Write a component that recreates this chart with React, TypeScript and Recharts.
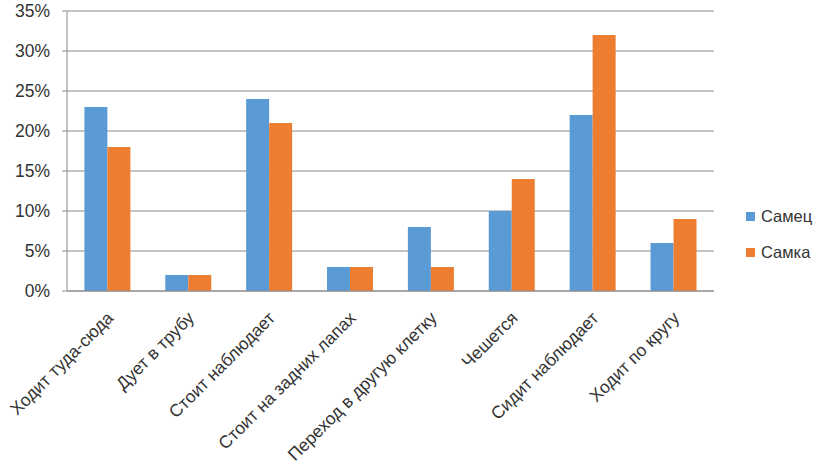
import React from "react";
import { BarChart, Bar, XAxis, YAxis, CartesianGrid, Legend } from "recharts";

const categories = [
  "Ходит туда-сюда",
  "Дует в трубу",
  "Стоит наблюдает",
  "Стоит на задних лапах",
  "Переход в другую клетку",
  "Чешется",
  "Сидит наблюдает",
  "Ходит по кругу",
];
const maleValues = [23, 2, 24, 3, 8, 10, 22, 6];
const femaleValues = [18, 2, 21, 3, 3, 14, 32, 9];
const yTicks = [0, 5, 10, 15, 20, 25, 30, 35];
const seriesNames = ["Самец", "Самка"];
const boundaryTicks = [0, 1, 2, 3, 4, 5, 6, 7, 8];

const data = categories.map((c, i) => ({
  name: c,
  male: maleValues[i],
  female: femaleValues[i],
}));

const FONT = "'Liberation Sans', Arial, sans-serif";
const TEXT = "#333333";

const XTick = (props: any) => {
  const { x, y, payload } = props;
  return (
    <g transform={`translate(${x + 7},${y + 20})`}>
      <text
        transform="rotate(-45)"
        textAnchor="end"
        fontSize={17.5}
        fontFamily={FONT}
        fill={TEXT}
      >
        {payload.value}
      </text>
    </g>
  );
};

const LegendContent = (props: any) => {
  const { payload } = props;
  return (
    <div style={{ fontFamily: FONT, fontSize: 16.5, color: TEXT }}>
      {(payload || []).map((p: any, i: number) => (
        <div
          key={i}
          style={{ display: "flex", alignItems: "center", height: 20, marginBottom: i === 0 ? 16 : 0 }}
        >
          <span
            style={{
              display: "inline-block",
              width: 9,
              height: 9,
              background: p.color,
              marginRight: 6,
            }}
          />
          <span>{p.value}</span>
        </div>
      ))}
    </div>
  );
};

export default function App() {
  return (
    <div style={{ position: "absolute", left: 0, top: 0, background: "#fff" }}>
      <BarChart
        width={827}
        height={469}
        data={data}
        margin={{ top: 11, right: 113, left: 0, bottom: 0 }}
        barCategoryGap="21.5%"
        barGap={0}
      >
        <CartesianGrid vertical={false} stroke="#8a8a8a" strokeWidth={1} />
        <XAxis
          xAxisId="bounds"
          type="number"
          domain={[0, 8]}
          ticks={boundaryTicks}
          tick={false}
          tickSize={5}
          tickLine={{ stroke: "#8a8a8a" }}
          axisLine={false}
          height={0}
        />
        <XAxis
          dataKey="name"
          interval={0}
          height={178}
          tick={<XTick />}
          tickLine={false}
          axisLine={{ stroke: "#8a8a8a" }}
        />
        <YAxis
          width={67}
          domain={[0, 35]}
          ticks={yTicks}
          tickFormatter={(v: number) => `${v}%`}
          tickSize={5}
          tickMargin={12}
          tickLine={{ stroke: "#8a8a8a" }}
          axisLine={{ stroke: "#8a8a8a" }}
          tick={{ fontSize: 17.5, fontFamily: FONT, fill: TEXT }}
          interval={0}
        />
        <Legend
          layout="vertical"
          align="center"
          verticalAlign="middle"
          content={<LegendContent />}
          wrapperStyle={{ left: 746, top: 206, width: 80 }}
        />
        <Bar dataKey="male" name={seriesNames[0]} fill="#5B9BD5" isAnimationActive={false} />
        <Bar dataKey="female" name={seriesNames[1]} fill="#ED7D31" isAnimationActive={false} />
      </BarChart>
    </div>
  );
}
